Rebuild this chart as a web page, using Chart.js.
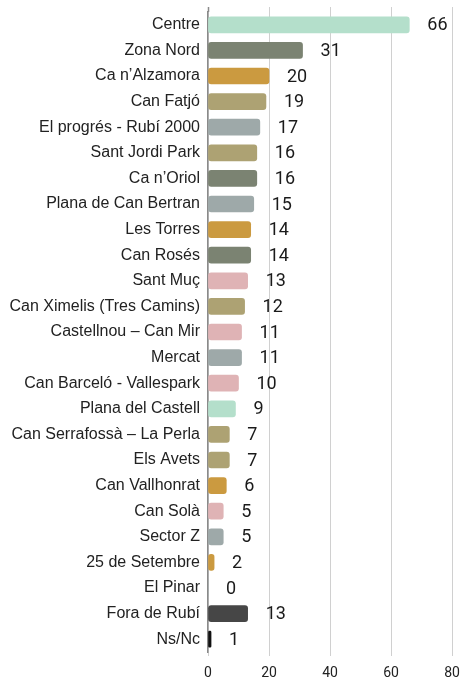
<!DOCTYPE html>
<html>
<head>
<meta charset="utf-8">
<script src="https://cdn.jsdelivr.net/npm/chart.js@4"></script>
<style>
  html, body { margin: 0; padding: 0; background: #fff; }
  #wrap { width: 461px; height: 679px; }
</style>
</head>
<body>
<div id="wrap"><canvas id="barris" width="461" height="679"></canvas></div>
<script>
// dades
const categories = [
    'Centre', 'Zona Nord', 'Ca n\u2019Alzamora', 'Can Fatjó', 'El progrés - Rubí 2000',
    'Sant Jordi Park', 'Ca n\u2019Oriol', 'Plana de Can Bertran', 'Les Torres', 'Can Rosés',
    'Sant Muç', 'Can Ximelis (Tres Camins)', 'Castellnou \u2013 Can Mir', 'Mercat',
    'Can Barceló - Vallespark', 'Plana del Castell', 'Can Serrafossà \u2013 La Perla',
    'Els Avets', 'Can Vallhonrat', 'Can Solà', 'Sector Z', '25 de Setembre', 'El Pinar',
    'Fora de Rubí', 'Ns/Nc'
];
const values = [66, 31, 20, 19, 17, 16, 16, 15, 14, 14, 13, 12, 11, 11, 10, 9, 7, 7, 6, 5, 5, 2, 0, 13, 1];
const xTicks = [0, 20, 40, 60, 80];

// colors per barra
const mint = '#b4dfcb', olive = '#7b8372', gold = '#cb9a40', khaki = '#ada273',
      slate = '#9ea9a9', pink = '#dfb3b5';
const barColors = [
    mint, olive, gold, khaki, slate, khaki, olive, slate, gold, olive,
    pink, khaki, pink, slate, pink, mint, khaki, khaki, gold, pink,
    slate, gold, slate, '#464646', '#111111'
];

// les línies de la graella sobresurten una mica per dalt
const gridTop = {
    id: 'gridTop',
    beforeDatasetsDraw(chart) {
        const { ctx, chartArea, scales } = chart;
        ctx.save();
        xTicks.forEach(v => {
            const x = Math.round(scales.x.getPixelForValue(v)) + 0.5;
            ctx.strokeStyle = v === 0 ? '#8a8a8a' : '#d0d0d0';
            ctx.lineWidth = v === 0 ? 1.5 : 1;
            ctx.beginPath();
            ctx.moveTo(x, chartArea.top - 5);
            ctx.lineTo(x, chartArea.top);
            ctx.stroke();
        });
        ctx.restore();
    }
};

// etiquetes de valor al final de cada barra
const valueLabels = {
    id: 'valueLabels',
    afterDatasetsDraw(chart) {
        const ctx = chart.ctx;
        const meta = chart.getDatasetMeta(0);
        ctx.save();
        ctx.font = '18px Roboto';
        ctx.fillStyle = '#1a1a1a';
        ctx.textAlign = 'left';
        ctx.textBaseline = 'middle';
        meta.data.forEach((bar, i) => {
            ctx.fillText(String(values[i]), bar.x + 18, bar.y + 1);
        });
        ctx.restore();
    }
};

new Chart(document.getElementById('barris'), {
    type: 'bar',
    data: {
        labels: categories,
        datasets: [{
            data: values,
            backgroundColor: barColors,
            borderRadius: 3,
            borderSkipped: false,
            barThickness: 16
        }]
    },
    options: {
        indexAxis: 'y',
        responsive: false,
        devicePixelRatio: 1,
        animation: false,
        layout: { padding: { top: 12, right: 0, left: 0, bottom: 0 } },
        plugins: {
            legend: { display: false },
            tooltip: { enabled: false }
        },
        scales: {
            x: {
                min: 0,
                max: 80,
                afterBuildTicks: scale => { scale.ticks = xTicks.map(v => ({ value: v })); },
                afterFit: scale => {
                    scale.height = 27;
                    scale.paddingLeft = 0;
                    scale.paddingRight = 9;
                },
                grid: { color: '#d0d0d0', lineWidth: 1, drawTicks: true, tickLength: 4 },
                border: { display: false },
                ticks: {
                    padding: 9,
                    color: '#222',
                    font: { family: 'Roboto', size: 14 }
                }
            },
            y: {
                afterFit: scale => {
                    scale.width = 208;
                    scale.paddingTop = 0;
                    scale.paddingBottom = 0;
                },
                grid: { display: false, drawTicks: false },
                border: { display: true, color: '#8a8a8a', width: 1.5 },
                ticks: {
                    padding: 8,
                    color: '#222',
                    font: { family: 'Liberation Sans', size: 16 }
                }
            }
        }
    },
    plugins: [gridTop, valueLabels]
});
</script>
</body>
</html>
